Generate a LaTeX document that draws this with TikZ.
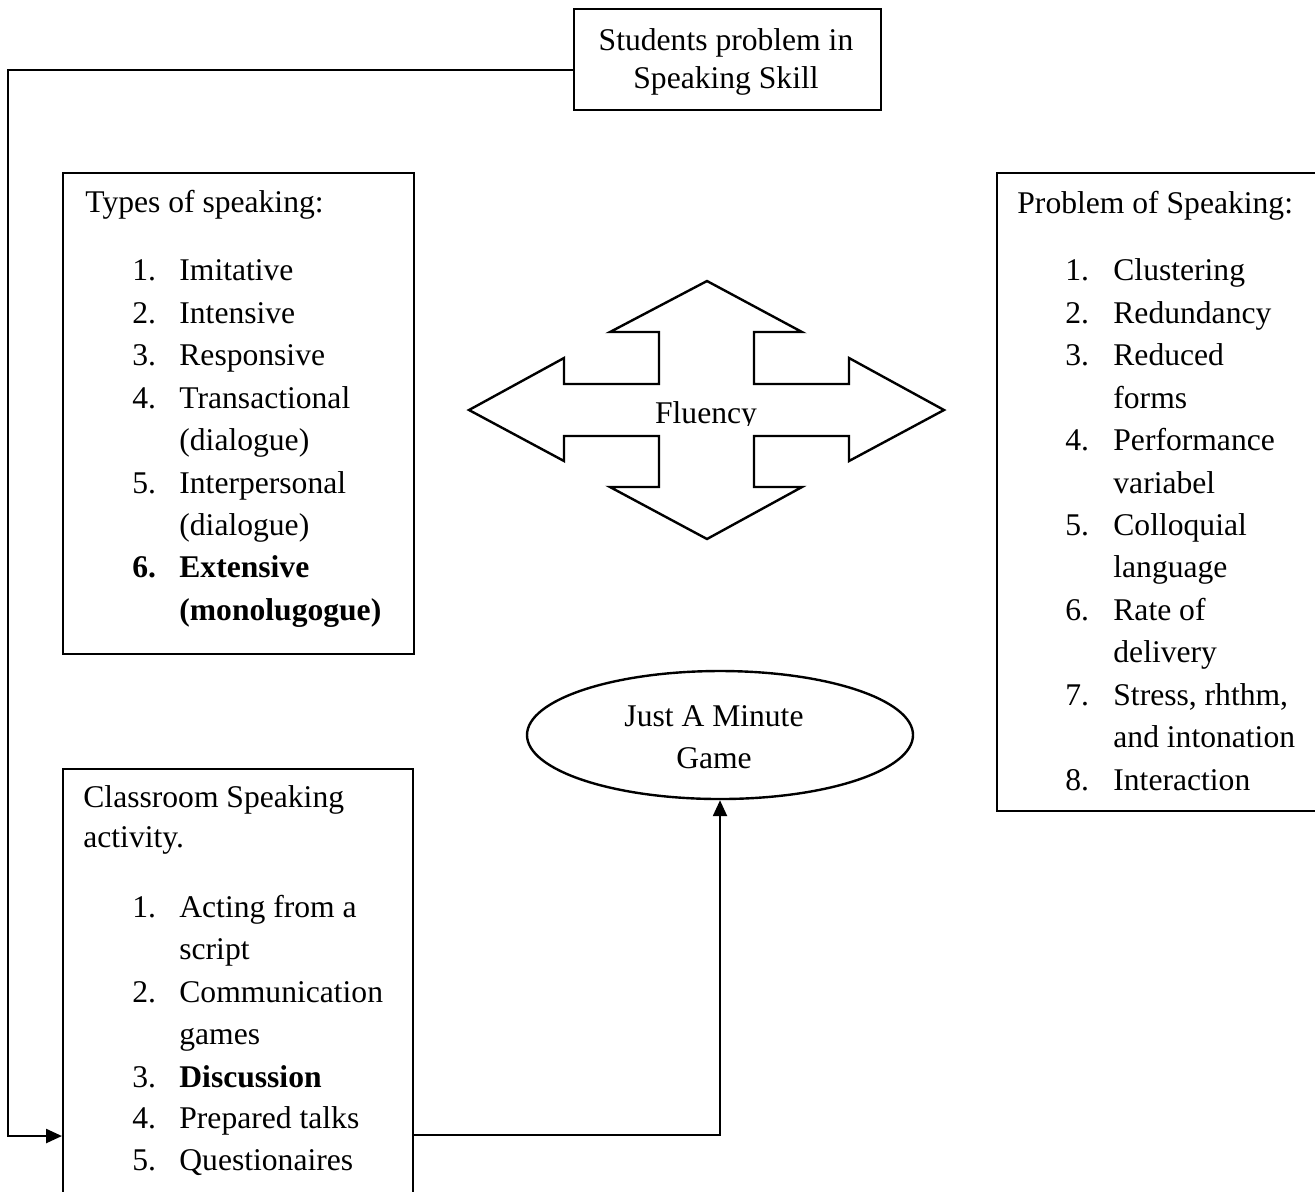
\documentclass[tikz,border=0pt]{standalone}
\usepackage{fontspec}
\setmainfont{Liberation Serif}
\usetikzlibrary{arrows.meta,shapes.geometric}
\begin{document}
\begin{tikzpicture}[x=0.5pt,y=-0.5pt,
  every node/.style={font=\fontsize{15.8}{19}\selectfont},
  box/.style={draw, line width=1.2pt, inner sep=0pt, anchor=north west},
  txt/.style={anchor=base west, inner sep=0pt},
  ctxt/.style={anchor=base, inner sep=0pt},
  conn/.style={line width=1.2pt, -{Triangle[length=8pt,width=7pt]}},
]
\clip (0,0) rectangle (1315,1191);
\fill[white] (0,0) rectangle (1315,1191);

% top box
\node[box, minimum width=153.5pt, minimum height=50.5pt] (top) at (573,8) {};
\node[ctxt] (s1) at (726,50) {Students problem in};
\node[ctxt] (s2) at (726,88) {Speaking Skill};

% types box
\node[box, minimum width=175.5pt, minimum height=240.5pt] (types) at (62,172) {};
\node[txt] (t0) at (85,212) {Types of speaking:};
\node[txt] (t1n) at (132,280) {1.}; \node[txt] (t1) at (179,280) {Imitative};
\node[txt] (t2n) at (132,323) {2.}; \node[txt] (t2) at (179,323) {Intensive};
\node[txt] (t3n) at (132,365) {3.}; \node[txt] (t3) at (179,365) {Responsive};
\node[txt] (t4n) at (132,408) {4.}; \node[txt] (t4) at (179,408) {Transactional};
\node[txt] (t4b) at (179,450) {(dialogue)};
\node[txt] (t5n) at (132,493) {5.}; \node[txt] (t5) at (179,493) {Interpersonal};
\node[txt] (t5b) at (179,535) {(dialogue)};
\node[txt] (t6n) at (132,577) {\textbf{6.}}; \node[txt] (t6) at (179,577) {\textbf{Extensive}};
\node[txt] (t6b) at (179,620) {\textbf{(monolugogue)}};

% problem box
\node[box, minimum width=167pt, minimum height=319pt] (prob) at (996,172) {};
\node[txt] (p0) at (1017,213) {Problem of Speaking:};
\node[txt] (p1n) at (1065,280) {1.}; \node[txt] (p1) at (1113,280) {Clustering};
\node[txt] (p2n) at (1065,323) {2.}; \node[txt] (p2) at (1113,323) {Redundancy};
\node[txt] (p3n) at (1065,365) {3.}; \node[txt] (p3) at (1113,365) {Reduced};
\node[txt] (p3b) at (1113,408) {forms};
\node[txt] (p4n) at (1065,450) {4.}; \node[txt] (p4) at (1113,450) {Performance};
\node[txt] (p4b) at (1113,493) {variabel};
\node[txt] (p5n) at (1065,535) {5.}; \node[txt] (p5) at (1113,535) {Colloquial};
\node[txt] (p5b) at (1113,577) {language};
\node[txt] (p6n) at (1065,620) {6.}; \node[txt] (p6) at (1113,620) {Rate of};
\node[txt] (p6b) at (1113,662) {delivery};
\node[txt] (p7n) at (1065,705) {7.}; \node[txt] (p7) at (1113,705) {Stress, rhthm,};
\node[txt] (p7b) at (1113,747) {and intonation};
\node[txt] (p8n) at (1065,790) {8.}; \node[txt] (p8) at (1113,790) {Interaction};

% classroom box
\node[box, minimum width=175pt, minimum height=216pt] (cls) at (62,768) {};
\node[txt] (c0) at (83,807) {Classroom Speaking};
\node[txt] (c0b) at (83,847) {activity.};
\node[txt] (c1n) at (132,917) {1.}; \node[txt] (c1) at (179,917) {Acting from a};
\node[txt] (c1b) at (179,959) {script};
\node[txt] (c2n) at (132,1002) {2.}; \node[txt] (c2) at (179,1002) {Communication};
\node[txt] (c2b) at (179,1044) {games};
\node[txt] (c3n) at (132,1087) {3.}; \node[txt] (c3) at (179,1087) {\textbf{Discussion}};
\node[txt] (c4n) at (132,1128) {4.}; \node[txt] (c4) at (179,1128) {Prepared talks};
\node[txt] (c5n) at (132,1170) {5.}; \node[txt] (c5) at (179,1170) {Questionaires};

% ellipse
\node[draw, ellipse, line width=1.2pt, inner sep=0pt, minimum width=193pt, minimum height=64pt] (jam) at (720,735) {};
\node[ctxt] (jam1) at (714,726) {Just A Minute};
\node[ctxt] (jam2) at (714,768) {Game};

% fluency cross arrow
\draw[line width=1.2pt, line join=miter] (707,281) -- (802,332) -- (754,332) -- (754,384) -- (849,384) -- (849,358) -- (944,410) -- (849,461) -- (849,436) -- (754,436) -- (754,487) -- (802,487) -- (707,539) -- (610,487) -- (659,487) -- (659,436) -- (564,436) -- (564,461) -- (469,410) -- (564,358) -- (564,384) -- (659,384) -- (659,332) -- (610,332) -- cycle;
\begin{scope}
  \clip (600,385) rectangle (820,425);
  \node[ctxt] (flu) at (706,423) {Fluency};
\end{scope}

% connectors
\coordinate (j1) at (8,70);
\coordinate (ya) at (0,1136);
\coordinate (yb) at (0,1135);
\draw[conn] (top.west |- j1) -- (j1) |- (cls.west |- ya);
\draw[conn] (cls.east |- yb) -| (jam.south);
\end{tikzpicture}
\end{document}
